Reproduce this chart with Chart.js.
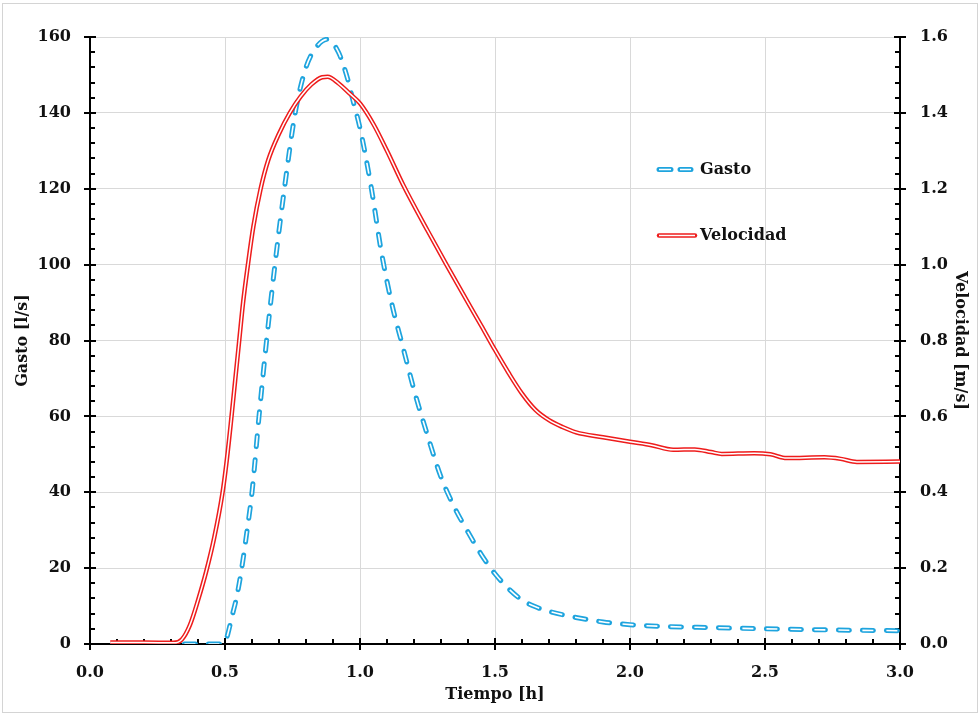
<!DOCTYPE html>
<html><head><meta charset="utf-8">
<script src="https://cdn.jsdelivr.net/npm/chart.js@4"></script>
<style>html,body{margin:0;padding:0;background:#fff}#wrap{width:980px;height:715px;position:relative}</style>
</head><body><div id="wrap"><canvas id="c" width="980" height="715"></canvas></div>
<script>
// ---- data ----
const tiempoGasto = [0.083,0.2,0.3,0.4,0.49,0.5,0.51,0.525,0.545,0.562,0.58,0.6,0.626,0.654,0.685,0.72,0.76,0.8,0.84,0.88,0.92,0.95,0.975,1.0,1.04,1.08,1.12,1.16,1.2,1.25,1.3,1.35,1.4,1.45,1.5,1.55,1.6,1.65,1.7,1.8,1.9,2.0,2.1,2.25,2.5,2.75,3.0];
const gasto = [0,0,0,0,0,0.3,2.5,7,13,20,29,40,60,80,100,120,140,152,157.5,159.4,156,150,143,136,121,103,89,78,67,55,44,36,29.5,23.5,18.5,14.6,11.6,9.8,8.6,7.0,5.8,5.1,4.7,4.4,4.0,3.7,3.5];
const tiempoVel = [0.075,0.2,0.31,0.34,0.37,0.4,0.43,0.46,0.49,0.505,0.522,0.537,0.552,0.567,0.585,0.605,0.632,0.66,0.7,0.74,0.78,0.82,0.86,0.88,0.92,0.96,1.0,1.05,1.1,1.16,1.25,1.32,1.4,1.45,1.5,1.55,1.6,1.65,1.7,1.75,1.8,1.9,2.0,2.08,2.16,2.24,2.3,2.34,2.46,2.52,2.58,2.72,2.78,2.84,3.0];
const velocidad = [0.004,0.004,0.003,0.012,0.05,0.115,0.19,0.28,0.395,0.475,0.585,0.69,0.795,0.9,1.0,1.1,1.2,1.275,1.345,1.4,1.443,1.475,1.494,1.495,1.478,1.452,1.425,1.37,1.3,1.21,1.09,1.0,0.9,0.838,0.775,0.715,0.66,0.617,0.59,0.572,0.558,0.545,0.533,0.524,0.512,0.513,0.506,0.501,0.503,0.5,0.49,0.492,0.488,0.48,0.481];
const seriesNames = ['Gasto','Velocidad'];
const axisTitles = {x:'Tiempo [h]', y:'Gasto [l/s]', y1:'Velocidad [m/s]'};

const BLUE = '#1EA4DE', RED = '#EE1C1C', FONT = "'DejaVu Serif', serif";
const pts = (xs, ys) => xs.map((t,i)=>({x:t, y:ys[i]}));

const frame = {
  id:'frame',
  beforeDraw(chart){
    const ctx = chart.ctx; ctx.save();
    ctx.strokeStyle = '#d4d4d4'; ctx.lineWidth = 1;
    ctx.strokeRect(2.5, 3.5, 975, 709);
    ctx.restore();
  }
};
const axisTicks = {
  id:'axisTicks',
  beforeDatasetsDraw(chart){
    const {ctx, chartArea:a, scales} = chart;
    const x = scales.x, y = scales.y, y1 = scales.y1;
    ctx.save(); ctx.strokeStyle = '#000'; ctx.lineWidth = 2; ctx.beginPath();
    for (let i=0;i<=30;i++){
      const px = Math.round(x.getPixelForValue(i/10));
      if (i%5===0){ ctx.moveTo(px,a.bottom-6); ctx.lineTo(px,a.bottom+6); }
      else { ctx.moveTo(px,a.bottom); ctx.lineTo(px,a.bottom-5); }
    }
    for (let i=0;i<=40;i++){
      const py = Math.round(y.getPixelForValue(i*4));
      if (i%5===0){ ctx.moveTo(a.left-6,py); ctx.lineTo(a.left+6,py); }
      else { ctx.moveTo(a.left,py); ctx.lineTo(a.left+5,py); }
      const py1 = Math.round(y1.getPixelForValue(i*0.04));
      if (i%5===0){ ctx.moveTo(a.right-6,py1); ctx.lineTo(a.right+6,py1); }
      else { ctx.moveTo(a.right,py1); ctx.lineTo(a.right-5,py1); }
    }
    ctx.stroke(); ctx.restore();
  }
};
const legendBox = {
  id:'legendBox',
  afterDatasetsDraw(chart){
    const ctx = chart.ctx; ctx.save();
    ctx.lineCap = 'round';
    const gy = 169.5;
    ctx.strokeStyle = BLUE; ctx.lineWidth = 5; ctx.beginPath();
    ctx.moveTo(659,gy); ctx.lineTo(671,gy); ctx.moveTo(680,gy); ctx.lineTo(691,gy); ctx.stroke();
    ctx.strokeStyle = '#fff'; ctx.lineWidth = 1.6; ctx.lineCap='butt'; ctx.beginPath();
    ctx.moveTo(659,gy); ctx.lineTo(671,gy); ctx.moveTo(680,gy); ctx.lineTo(691,gy); ctx.stroke();
    const vy = 235.5;
    ctx.lineCap = 'round';
    ctx.strokeStyle = RED; ctx.lineWidth = 4.5; ctx.beginPath(); ctx.moveTo(659,vy); ctx.lineTo(695,vy); ctx.stroke();
    ctx.strokeStyle = '#fff'; ctx.lineWidth = 1.5; ctx.lineCap='butt'; ctx.beginPath(); ctx.moveTo(659,vy); ctx.lineTo(695,vy); ctx.stroke();
    ctx.fillStyle = '#111'; ctx.font = "bold 16px " + FONT; ctx.textBaseline = 'middle'; ctx.textAlign = 'left';
    ctx.fillText(seriesNames[0], 700, gy);
    ctx.fillText(seriesNames[1], 700, vy);
    ctx.restore();
  }
};

Chart.defaults.font.family = FONT;
Chart.defaults.font.weight = 'bold';
Chart.defaults.font.size = 16;
Chart.defaults.color = '#111';

new Chart(document.getElementById('c'), {
  type:'line',
  data:{ datasets:[
    {label:seriesNames[0], data:pts(tiempoGasto,gasto), yAxisID:'y', borderColor:BLUE, borderWidth:5, borderDash:[11,13], borderCapStyle:'round', pointRadius:0, cubicInterpolationMode:'monotone', order:4},
    {label:seriesNames[0]+' ', data:pts(tiempoGasto,gasto), yAxisID:'y', borderColor:'#fff', borderWidth:1.6, borderDash:[11,13], borderCapStyle:'butt', pointRadius:0, cubicInterpolationMode:'monotone', order:3},
    {label:seriesNames[1], data:pts(tiempoVel,velocidad), yAxisID:'y1', borderColor:RED, borderWidth:4.5, pointRadius:0, cubicInterpolationMode:'monotone', order:2},
    {label:seriesNames[1]+' ', data:pts(tiempoVel,velocidad), yAxisID:'y1', borderColor:'#fff', borderWidth:1.5, pointRadius:0, cubicInterpolationMode:'monotone', order:1}
  ]},
  options:{
    responsive:false, animation:false, devicePixelRatio:1,
    layout:{padding:{top:37,left:0,right:0,bottom:0}},
    plugins:{legend:{display:false}, tooltip:{enabled:false}},
    scales:{
      x:{type:'linear', min:0, max:3,
        ticks:{stepSize:0.5, padding:19, maxRotation:0, autoSkip:false, callback:v=>Number(v).toFixed(1)},
        grid:{color:'#d9d9d9', lineWidth:1, drawTicks:false},
        border:{color:'#000', width:2},
        title:{display:true, text:axisTitles.x, font:{size:16, weight:'bold'}, padding:{top:0,bottom:11}},
        afterFit(s){ s.height = 71; }
      },
      y:{type:'linear', position:'left', min:0, max:160,
        ticks:{stepSize:20, padding:19},
        grid:{color:'#d9d9d9', lineWidth:1, drawTicks:false},
        border:{color:'#000', width:2},
        title:{display:true, text:axisTitles.y, font:{size:16, weight:'bold'}, padding:{top:13,bottom:0}},
        afterFit(s){ s.width = 90; }
      },
      y1:{type:'linear', position:'right', min:0, max:1.6,
        ticks:{stepSize:0.2, padding:20, callback:v=>Number(v).toFixed(1)},
        grid:{drawOnChartArea:false, drawTicks:false},
        border:{color:'#000', width:2},
        title:{display:true, text:axisTitles.y1, font:{size:16, weight:'bold'}, padding:{top:10,bottom:0}},
        afterFit(s){ s.width = 80; }
      }
    }
  },
  plugins:[frame, axisTicks, legendBox]
});
</script></body></html>
